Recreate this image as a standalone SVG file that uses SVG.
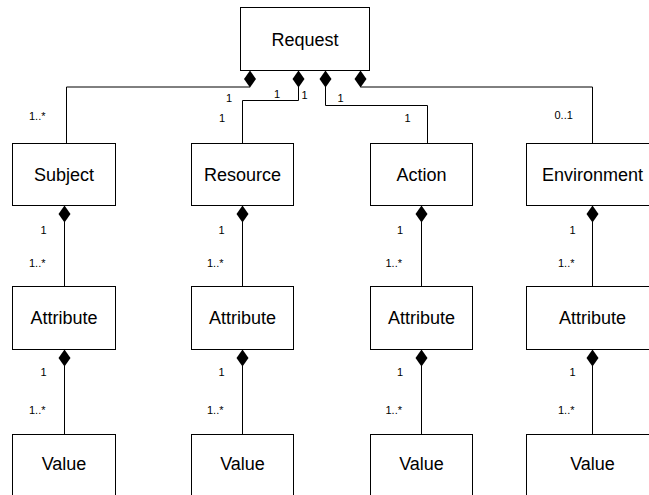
<svg xmlns="http://www.w3.org/2000/svg" xmlns:xlink="http://www.w3.org/1999/xlink" width="649" height="495" viewBox="0 0 649 495">
<style>
.box{fill:#fff;stroke:#000;stroke-width:1}
.nt{font-family:"Liberation Sans",Arial,sans-serif;font-size:18px;fill:#000;text-anchor:middle}
.lbl{font-family:"Liberation Sans",Arial,sans-serif;font-size:11px;fill:#000}
.ln{fill:none;stroke:#000;stroke-width:1}
.dia{fill:#000;stroke:none}
</style>
<defs>
<path id="dia" class="dia" d="M0,0 L6,8.5 L0,17 L-6,8.5 Z"/>
</defs>
<rect x="0" y="0" width="649" height="495" fill="#fff"/>
<g id="connectors">
<path class="ln" d="M250,87 H66.5 V143.5"/>
<path class="ln" d="M298.5,87 V100.5 H242.5 V143.5"/>
<path class="ln" d="M325.5,87 V105.5 H427.5 V143.5"/>
<path class="ln" d="M360.5,87 H592.5 V143.5"/>
<use xlink:href="#dia" x="250" y="70.5"/>
<use xlink:href="#dia" x="298.5" y="70.5"/>
<use xlink:href="#dia" x="325.5" y="70.5"/>
<use xlink:href="#dia" x="360.5" y="70.5"/>
<path class="ln" d="M64.5,222 V286.5 M64.5,366 V434.5"/>
<path class="ln" d="M242.5,222 V286.5 M242.5,366 V434.5"/>
<path class="ln" d="M421.5,222 V286.5 M421.5,366 V434.5"/>
<path class="ln" d="M592.5,222 V286.5 M592.5,366 V434.5"/>
<use xlink:href="#dia" x="64.5" y="205.5"/>
<use xlink:href="#dia" x="242.5" y="205.5"/>
<use xlink:href="#dia" x="421.5" y="205.5"/>
<use xlink:href="#dia" x="592.5" y="205.5"/>
<use xlink:href="#dia" x="64.5" y="349.5"/>
<use xlink:href="#dia" x="242.5" y="349.5"/>
<use xlink:href="#dia" x="421.5" y="349.5"/>
<use xlink:href="#dia" x="592.5" y="349.5"/>
<text class="lbl" x="29" y="120">1..*</text>
<text class="lbl" x="226" y="102">1</text>
<text class="lbl" x="219" y="122">1</text>
<text class="lbl" x="274" y="98">1</text>
<text class="lbl" x="301.5" y="99">1</text>
<text class="lbl" x="337.5" y="102">1</text>
<text class="lbl" x="404.5" y="122">1</text>
<text class="lbl" x="554.5" y="119">0..1</text>
<text class="lbl" x="40.5" y="234">1</text>
<text class="lbl" x="29" y="267">1..*</text>
<text class="lbl" x="40.5" y="376">1</text>
<text class="lbl" x="29" y="414">1..*</text>
<text class="lbl" x="218.5" y="234">1</text>
<text class="lbl" x="207" y="267">1..*</text>
<text class="lbl" x="218.5" y="376">1</text>
<text class="lbl" x="207" y="414">1..*</text>
<text class="lbl" x="397" y="234">1</text>
<text class="lbl" x="385.5" y="267">1..*</text>
<text class="lbl" x="397" y="376">1</text>
<text class="lbl" x="385.5" y="414">1..*</text>
<text class="lbl" x="569.5" y="234">1</text>
<text class="lbl" x="558" y="267">1..*</text>
<text class="lbl" x="569.5" y="376">1</text>
<text class="lbl" x="558" y="414">1..*</text>
</g>
<g id="request"><rect class="box" x="240.5" y="7.5" width="129" height="63"/><text class="nt" x="305" y="45.5">Request</text></g>
<g id="subject"><rect class="box" x="12.5" y="143.5" width="103" height="62"/><text class="nt" x="64" y="181">Subject</text></g>
<g id="resource"><rect class="box" x="191.5" y="143.5" width="102" height="62"/><text class="nt" x="242.5" y="181">Resource</text></g>
<g id="action"><rect class="box" x="370.5" y="143.5" width="102" height="62"/><text class="nt" x="421.5" y="181">Action</text></g>
<g id="environment"><rect class="box" x="526.5" y="143.5" width="134" height="62"/><text class="nt" x="592.5" y="181">Environment</text></g>
<g id="attribute-subject"><rect class="box" x="12.5" y="286.5" width="103" height="63"/><text class="nt" x="64" y="324">Attribute</text></g>
<g id="attribute-resource"><rect class="box" x="191.5" y="286.5" width="102" height="63"/><text class="nt" x="242.5" y="324">Attribute</text></g>
<g id="attribute-action"><rect class="box" x="370.5" y="286.5" width="102" height="63"/><text class="nt" x="421.5" y="324">Attribute</text></g>
<g id="attribute-environment"><rect class="box" x="526.5" y="286.5" width="134" height="63"/><text class="nt" x="592.5" y="324">Attribute</text></g>
<g id="value-subject"><rect class="box" x="12.5" y="434.5" width="103" height="70"/><text class="nt" x="64" y="470">Value</text></g>
<g id="value-resource"><rect class="box" x="191.5" y="434.5" width="102" height="70"/><text class="nt" x="242.5" y="470">Value</text></g>
<g id="value-action"><rect class="box" x="370.5" y="434.5" width="102" height="70"/><text class="nt" x="421.5" y="470">Value</text></g>
<g id="value-environment"><rect class="box" x="526.5" y="434.5" width="134" height="70"/><text class="nt" x="592.5" y="470">Value</text></g>
</svg>
